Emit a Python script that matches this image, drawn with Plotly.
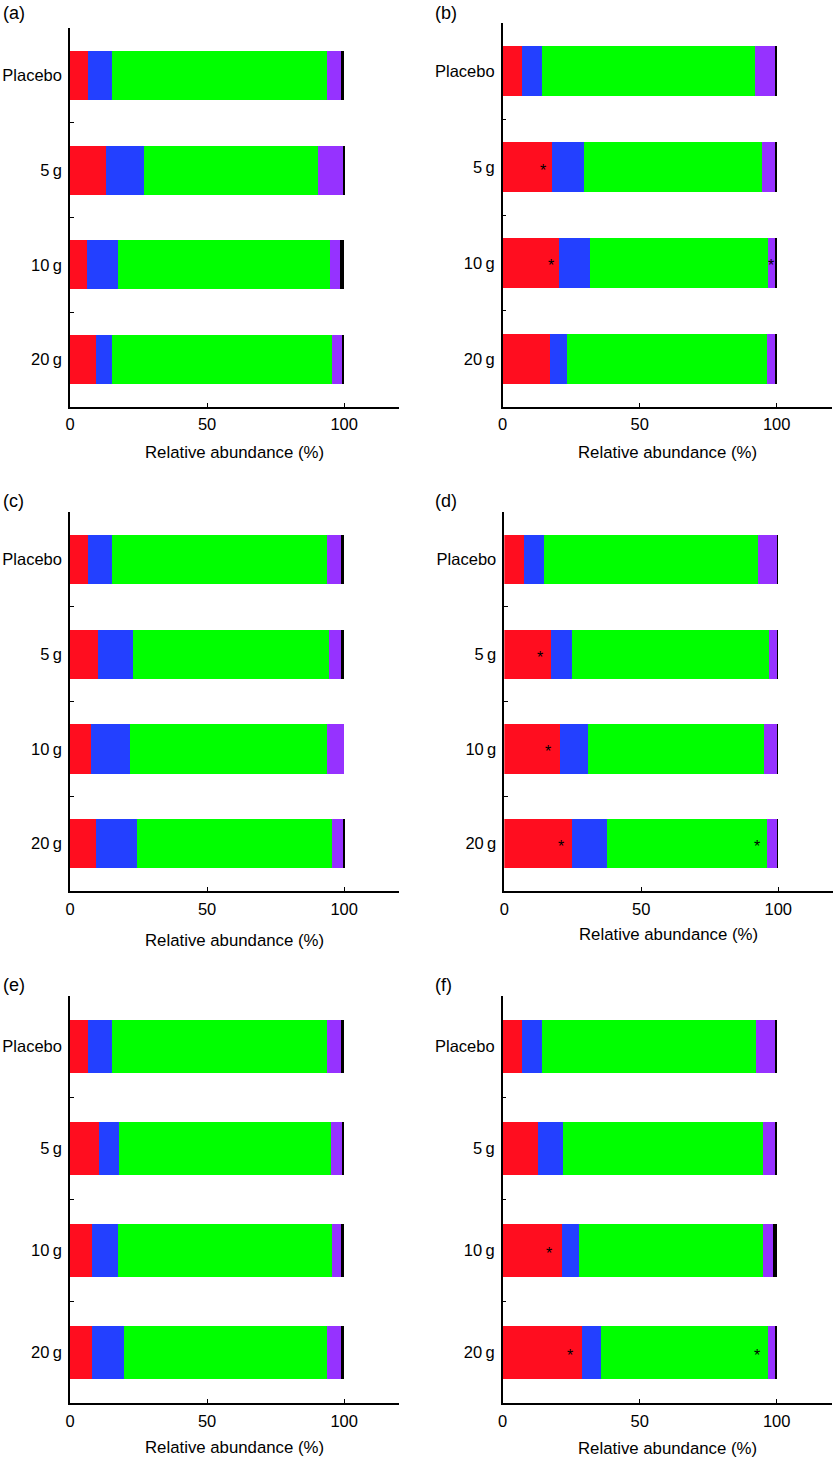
import plotly.graph_objects as go

W, H = 835, 1458
FONT = "Liberation Sans, Arial, Helvetica, sans-serif"

categories = ["Placebo", "5\u2009g", "10\u2009g", "20\u2009g"]
x_tickvals = [0, 50, 100]
x_range = [0, 120]
axis_title = "Relative abundance (%)"
series_colors = ["#FF0D1F", "#2340FF", "#00FF00", "#9632FF", "#000000"]
series_names = ["Taxon 1", "Taxon 2", "Taxon 3", "Taxon 4", "Taxon 5"]

# Panel (a)
red_a = [6.4, 13.1, 6.3, 9.5]
blue_a = [8.8, 13.9, 11.2, 5.8]
green_a = [78.4, 63.6, 77.4, 80.3]
purple_a = [5.3, 9.1, 3.6, 3.7]
black_a = [1.1, 0.3, 1.5, 0.7]

# Panel (b)
red_b = [6.9, 18.1, 20.4, 17.3]
blue_b = [7.5, 11.5, 11.5, 6.3]
green_b = [77.8, 65.0, 64.9, 73.0]
purple_b = [7.4, 4.7, 2.5, 3.0]
black_b = [0.4, 0.7, 0.7, 0.4]
star_b_cat = ["5\u2009g", "10\u2009g", "10\u2009g"]
star_b_x = [14.8, 17.6, 97.9]

# Panel (c)
red_c = [6.4, 10.1, 7.8, 9.6]
blue_c = [8.8, 13.0, 14.1, 14.7]
green_c = [78.4, 71.5, 71.9, 71.3]
purple_c = [5.3, 4.1, 6.2, 4.3]
black_c = [1.1, 1.3, 0.0, 0.1]

# Panel (d)
red_d = [7.3, 17.2, 20.2, 24.7]
blue_d = [7.2, 7.5, 10.2, 12.9]
green_d = [78.0, 71.9, 64.4, 58.4]
purple_d = [7.2, 3.2, 5.0, 3.8]
black_d = [0.3, 0.2, 0.2, 0.2]
star_d_cat = ["5\u2009g", "10\u2009g", "20\u2009g", "20\u2009g"]
star_d_x = [13.1, 15.8, 20.8, 92.1]

# Panel (e)
red_e = [6.4, 10.6, 8.0, 7.9]
blue_e = [8.8, 7.3, 9.6, 11.7]
green_e = [78.4, 77.2, 78.0, 74.3]
purple_e = [5.3, 4.4, 3.4, 4.9]
black_e = [1.1, 0.5, 1.0, 1.2]

# Panel (f)
red_f = [6.9, 13.0, 21.7, 28.8]
blue_f = [7.6, 9.1, 6.3, 7.0]
green_f = [77.8, 72.9, 66.9, 60.9]
purple_f = [7.3, 4.4, 3.6, 2.9]
black_f = [0.4, 0.6, 1.5, 0.4]
star_f_cat = ["10\u2009g", "20\u2009g", "20\u2009g"]
star_f_x = [17.0, 24.6, 92.7]

panel_labels = ["(a)", "(b)", "(c)", "(d)", "(e)", "(f)"]
panel_series = [
    [red_a, blue_a, green_a, purple_a, black_a],
    [red_b, blue_b, green_b, purple_b, black_b],
    [red_c, blue_c, green_c, purple_c, black_c],
    [red_d, blue_d, green_d, purple_d, black_d],
    [red_e, blue_e, green_e, purple_e, black_e],
    [red_f, blue_f, green_f, purple_f, black_f],
]
panel_stars = [None, (star_b_cat, star_b_x), None, (star_d_cat, star_d_x), None, (star_f_cat, star_f_x)]

# Layout geometry in pixels: (x_left, x_right, y_top, y_bottom, label_x, label_y, title_y)
geom = [
    (70.0, 399.0, 28.3, 406.7, 1, 13, 452),
    (502.7, 831.5, 23.3, 406.7, 433, 13, 452),
    (70.0, 399.0, 512.3, 891.0, 1, 501.5, 940),
    (504.3, 833.0, 512.3, 891.0, 433, 501.5, 934),
    (70.0, 399.0, 995.7, 1403.0, 1, 985, 1447.5),
    (502.7, 831.5, 995.7, 1403.0, 433, 985, 1448),
]

fig = go.Figure()
annotations = []
layout = dict(
    template="none",
    width=W, height=H, margin=dict(l=0, r=0, t=0, b=0, pad=0, autoexpand=False),
    paper_bgcolor="white", plot_bgcolor="white",
    barmode="stack", showlegend=False,
    font=dict(family=FONT, color="black", size=16.5),
)

for i, (series, g) in enumerate(zip(panel_series, geom)):
    n = i + 1
    xa = "x" if n == 1 else f"x{n}"
    ya = "y" if n == 1 else f"y{n}"
    xl, xr, yt, yb, lx, ly, ty = g
    for vals, color, name in zip(series, series_colors, series_names):
        fig.add_trace(go.Bar(
            x=vals, y=categories, orientation="h", width=0.52,
            marker=dict(color=color, line=dict(width=0)),
            name=name, xaxis=xa, yaxis=ya, hoverinfo="x+y",
        ))
    stars = panel_stars[i]
    if stars is not None:
        for cat, sx in zip(stars[0], stars[1]):
            annotations.append(dict(
                x=sx, y=cat, xref=xa, yref=ya, text="*", showarrow=False,
                font=dict(size=16, color="black", family=FONT),
                xanchor="center", yanchor="middle", yshift=-3,
            ))
    layout["xaxis" if n == 1 else f"xaxis{n}"] = dict(
        domain=[xl / W, xr / W], anchor=ya, range=x_range,
        tickvals=x_tickvals, ticks="inside", ticklen=4, tickwidth=1.3,
        tickcolor="black", showline=True, linewidth=1.5, linecolor="black",
        showgrid=False, zeroline=False, tickfont=dict(size=16.5),
        ticklabelstandoff=2, fixedrange=True, automargin=False,
    )
    layout["yaxis" if n == 1 else f"yaxis{n}"] = dict(
        domain=[1 - yb / H, 1 - yt / H], anchor=xa, type="category",
        categoryorder="array", categoryarray=categories, range=[3.5, -0.5],
        tickson="boundaries", ticks="inside", ticklen=4, tickwidth=1.3,
        tickcolor="black", showline=True, linewidth=1.5, linecolor="black",
        showgrid=False, zeroline=False, tickfont=dict(size=16.5),
        ticklabelstandoff=3, fixedrange=True, automargin=False,
    )
    annotations.append(dict(
        x=lx / W, y=1 - ly / H, xref="paper", yref="paper", text=panel_labels[i],
        showarrow=False, xanchor="left", yanchor="middle",
        font=dict(size=18, color="black", family=FONT),
    ))
    annotations.append(dict(
        x=(xl + xr) / 2 / W, y=1 - ty / H,
        xref="paper", yref="paper", text=axis_title, showarrow=False,
        xanchor="center", yanchor="middle",
        font=dict(size=16.8, color="black", family=FONT),
    ))

layout["annotations"] = annotations
fig.update_layout(**layout)
fig.write_html(
    "out.html",
    config={"displayModeBar": False},
    post_script="document.body.style.margin='0px';document.body.style.padding='0px';",
)
